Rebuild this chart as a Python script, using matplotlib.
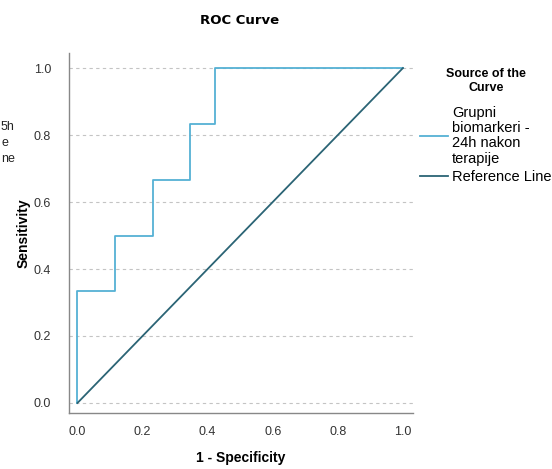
import matplotlib
matplotlib.use("Agg")
import matplotlib.pyplot as plt

plt.rcParams['font.family'] = ['Liberation Sans', 'DejaVu Sans']

# ROC curve points (1 - specificity, sensitivity)
fpr = [0.0, 0.0, 0.115, 0.115, 0.231, 0.231, 0.346, 0.346, 0.423, 0.423, 1.0]
tpr = [0.0, 0.333, 0.333, 0.5, 0.5, 0.667, 0.667, 0.833, 0.833, 1.0, 1.0]
ref_x = [0.0, 1.0]
ref_y = [0.0, 1.0]
ticks = [0.0, 0.2, 0.4, 0.6, 0.8, 1.0]
tick_labels = ["0.0", "0.2", "0.4", "0.6", "0.8", "1.0"]
roc_label = "Grupni\nbiomarkeri -\n24h nakon\nterapije"
ref_label = "Reference Line"

W, H = 552, 469
fig = plt.figure(figsize=(W / 100, H / 100), dpi=100)
ax = fig.add_axes([69 / W, 1 - 413 / H, (413 - 69) / W, (413 - 53) / H])

roc_color = "#55b1d4"
ref_color = "#2b6475"

ax.plot(fpr, tpr, color=roc_color, lw=1.3, label=roc_label, zorder=3)
ax.plot(ref_x, ref_y, color=ref_color, lw=1.3, label=ref_label, zorder=3)

ax.set_xlim(-0.026, 1.031)
ax.set_ylim(-0.030, 1.045)
ax.set_xticks(ticks)
ax.set_xticklabels(tick_labels)
ax.set_yticks(ticks)
ax.set_yticklabels(tick_labels)
ax.tick_params(axis='both', length=0, labelsize=9, labelcolor="#333333")
ax.tick_params(axis='x', pad=9)
ax.tick_params(axis='y', pad=13)

ax.yaxis.grid(True, color="#c4c4c4", linestyle=(0, (3, 3)), linewidth=0.8)
ax.set_axisbelow(True)
for side in ("top", "right"):
    ax.spines[side].set_visible(False)
for side in ("left", "bottom"):
    ax.spines[side].set_color("#888888")
    ax.spines[side].set_linewidth(1.0)

ax.set_xlabel("1 - Specificity", fontsize=10, fontweight="bold", labelpad=10)
ax.set_ylabel("Sensitivity", fontsize=10, fontweight="bold", labelpad=2)
fig.text(240 / W, 1 - 21 / H, "ROC Curve", ha="center", va="center",
         fontsize=9.5, fontweight="bold", family=["DejaVu Sans"])

leg = ax.legend(loc="upper left", bbox_to_anchor=(420 / W, 1 - 68 / H),
                bbox_transform=fig.transFigure, frameon=False, fontsize=10.5,
                title="Source of the\nCurve", borderpad=0, borderaxespad=0,
                handlelength=1.9, handletextpad=0.3, labelspacing=0.3)
leg.get_title().set_fontweight("bold")
leg.get_title().set_fontsize(9)
leg.get_title().set_multialignment("center")
leg._legend_box.sep = 9
for t in leg.get_texts():
    t.set_linespacing(1.1)

# Legend text of the neighbouring panel, at the left edge
for txt, yy in (("5h", 127), ("e", 143), ("ne", 159)):
    fig.text(1 / W, 1 - yy / H, txt, ha="left", va="center", fontsize=9,
             color="#222222")

fig.savefig("out.png", dpi=100, facecolor="white")
